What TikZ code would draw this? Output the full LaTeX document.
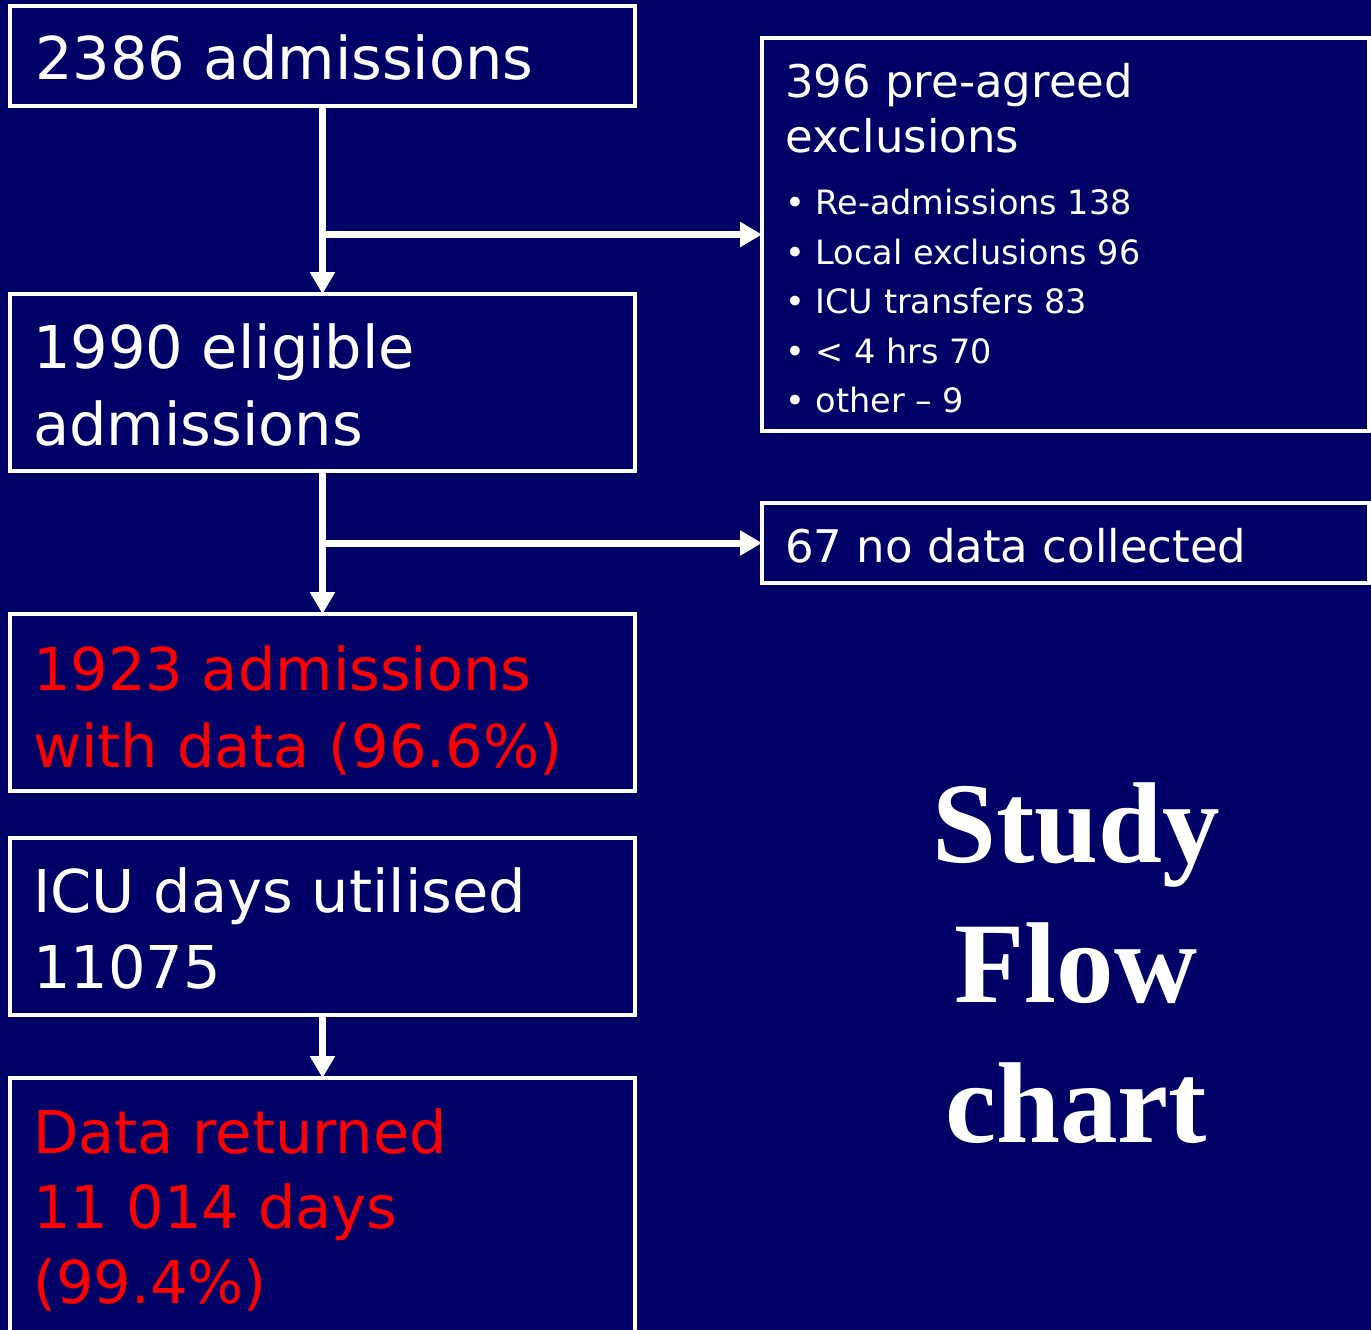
\documentclass[tikz,border=0pt]{standalone}
\usepackage{fontspec}
\setmainfont{DejaVu Sans}
\newfontfamily\titlefont{Liberation Serif}
\usetikzlibrary{arrows.meta}
\definecolor{navy}{RGB}{0,0,102}
\definecolor{redtxt}{RGB}{255,0,0}
\begin{document}
\begin{tikzpicture}[x=1pt,y=-1pt,
  box/.style={draw=white, line width=3.5pt, rectangle, inner sep=0pt, outer sep=0pt, anchor=north west},
  arr/.style={draw=white, line width=7pt, -{Triangle[width=24pt,length=22pt]}},
  bigtxt/.style={anchor=base west, inner sep=0pt, text=white, font=\fontsize{59}{70}\selectfont},
  redbig/.style={bigtxt, text=redtxt},
  medtxt/.style={anchor=base west, inner sep=0pt, text=white, font=\fontsize{45}{54}\selectfont},
  smalltxt/.style={anchor=base west, inner sep=0pt, text=white, font=\fontsize{33.5}{40}\selectfont},
  titletxt/.style={anchor=base, inner sep=0pt, text=white, font=\titlefont\bfseries\fontsize{115}{130}\selectfont}]
\fill[navy] (0,0) rectangle (1371,1330);
\useasboundingbox (0,0) rectangle (1371,1330);
% left boxes
\node[box, minimum width=625pt, minimum height=100pt] (b1) at (10,6) {};
\node[box, minimum width=625pt, minimum height=177pt] (b2) at (10,294) {};
\node[box, minimum width=625pt, minimum height=177pt] (b3) at (10,614) {};
\node[box, minimum width=625pt, minimum height=177pt] (b4) at (10,838) {};
\node[box, minimum width=625pt, minimum height=272pt] (b5) at (10,1078) {};
% right boxes
\node[box, minimum width=607pt, minimum height=393pt] (r1) at (762,38) {};
\node[box, minimum width=607pt, minimum height=80pt] (r2) at (762,503) {};
% texts
\node[bigtxt] (t1) at (35,80) {2386 admissions};
\node[bigtxt] (t2a) at (33,368) {1990 eligible};
\node[bigtxt] (t2b) at (33,445) {admissions};
\node[redbig] (t3a) at (33,690) {1923 admissions};
\node[redbig] (t3b) at (33,767) {with data (96.6\%)};
\node[bigtxt] (t4a) at (33,912) {ICU days utilised};
\node[bigtxt] (t4b) at (33,988) {11075};
\node[redbig] (t5a) at (33,1153) {Data returned};
\node[redbig] (t5b) at (33,1228) {11 014 days};
\node[redbig] (t5c) at (33,1303) {(99.4\%)};
\node[medtxt] (h1) at (785,98) {396 pre-agreed};
\node[medtxt] (h2) at (785,152) {exclusions};
\node[smalltxt] (e1) at (785,214) {• Re-admissions 138};
\node[smalltxt] (e2) at (785,264) {• Local exclusions 96};
\node[smalltxt] (e3) at (785,313) {• ICU transfers 83};
\node[smalltxt] (e4) at (785,363) {• < 4 hrs 70};
\node[smalltxt] (e5) at (785,412) {• other – 9};
\node[medtxt] (n1) at (785,562) {67 no data collected};
\node[titletxt] (s1) at (1076,862) {Study};
\node[titletxt] (s2) at (1076,1002) {Flow};
\node[titletxt] (s3) at (1076,1142) {chart};
% connectors
\draw[arr] (b1.south) -- (b2.north);
\draw[arr] (b1.south |- r1.west) -- (r1.west);
\draw[arr] (b2.south) -- (b3.north);
\draw[arr] (b2.south |- r2.west) -- (r2.west);
\draw[arr] (b4.south) -- (b5.north);
\end{tikzpicture}
\end{document}
